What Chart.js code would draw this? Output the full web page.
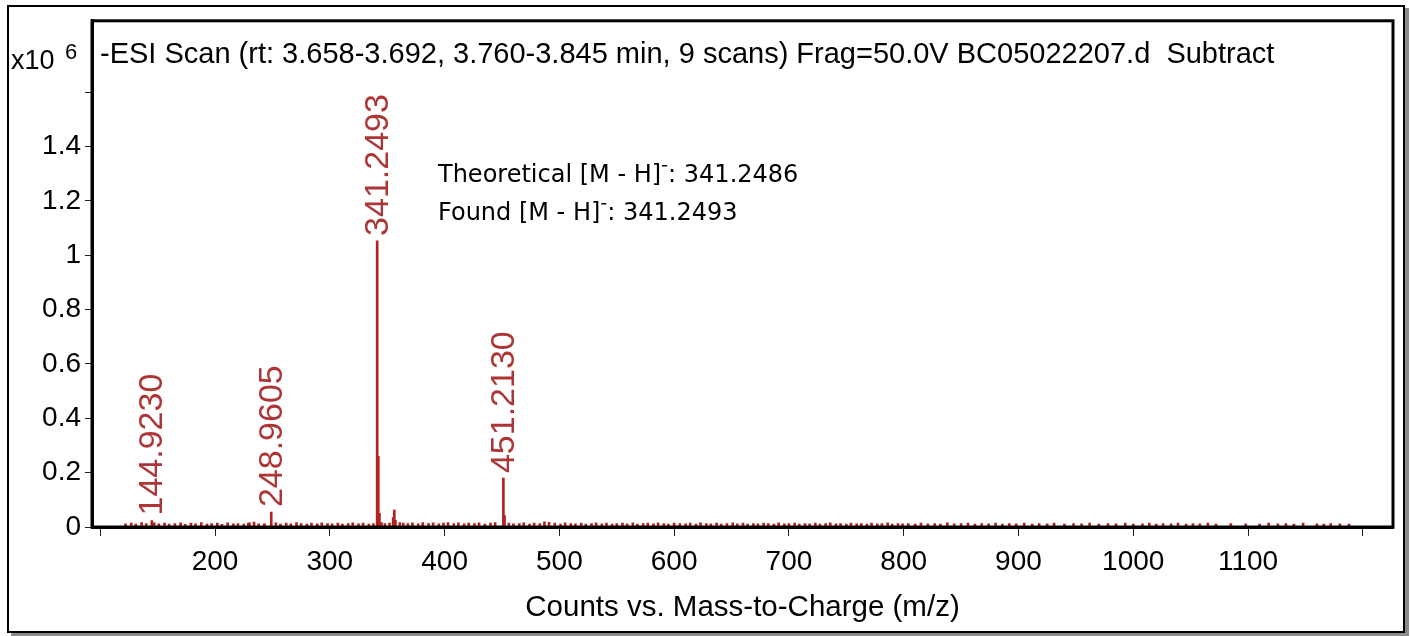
<!DOCTYPE html>
<html lang="en">
<head>
  <meta charset="UTF-8">
  <title>ESI Scan</title>
  <script src="https://cdn.jsdelivr.net/npm/chart.js"></script>
  <style>
    body {
      margin: 0;
      background: #fff;
      width: 1411px;
      height: 636px;
      overflow: hidden;
      position: relative;
    }
    .frame {
      position: absolute;
      left: 7px;
      top: 5px;
      width: 1394px;
      height: 624px;
      border: 2px solid #000;
      box-shadow: 4px 3px 0 #8a8a8a;
    }
    canvas {
      position: absolute;
      left: 0;
      top: 0;
    }
  </style>
</head>
<body>
<div class="frame"></div>
<canvas id="spectrum" width="1411" height="636"></canvas>

<script>
// labelled peaks and their neighbours (m/z, counts x10^6)
const peakMz  = [144.923, 230.0, 248.9605, 341.2493, 342.25, 343.25, 355.2, 356.2, 357.2, 451.213, 452.22, 491.0];
const peakInt = [0.024,   0.015, 0.055,    1.053,    0.26,   0.05,   0.035, 0.062, 0.025, 0.18,    0.042,  0.017];

// baseline noise
const noiseMz = [122,127,131,136,140,147,151,156,160,165,170,174,179,183,188,193,197,202,206,211,216,220,225,229,234,238,243,253,257,262,266,271,275,280,284,289,293,298,
  302,307,311,316,320,325,329,334,338,345,348,352,361,364,368,372,377,381,386,390,395,399,
  403,408,412,417,421,426,430,435,440,444,456,460,465,469,474,478,483,487,496,501,505,510,514,519,523,528,532,537,541,546,550,555,559,564,568,573,577,582,586,591,595,600,
  605,610,614,619,623,628,632,637,641,646,651,655,660,664,669,673,678,682,687,691,696,700,705,709,714,718,723,727,732,736,741,745,750,754,759,763,768,772,777,781,786,790,795,799,
  804,810,815,821,827,832,838,844,850,856,862,868,874,880,886,892,898,905,912,918,925,931,940,948,955,962,970,978,985,993,1000,
  1008,1014,1020,1026,1033,1039,1046,1052,1058,1065,1072,1085,1098,1110,1118,1126,1133,1140,1148,1160,1166,1172,1180,1188];
const noiseInt = [.012,.014,.011,.016,.013,.015,.012,.014,.011,.013,.015,.010,.014,.012,.016,.011,.013,.014,.010,.015,.012,.013,.011,.014,.018,.012,.013,.015,.011,.014,.012,.016,.013,.011,.014,.012,.015,.013,
  .012,.014,.011,.013,.015,.012,.014,.011,.013,.016,.013,.014,.016,.014,.013,.015,.012,.016,.013,.015,.012,.014,
  .016,.013,.015,.012,.014,.013,.015,.011,.014,.016,.014,.012,.013,.015,.011,.014,.013,.019,.014,.011,.015,.013,.012,.014,.011,.013,.015,.012,.014,.011,.013,.014,.012,.015,.011,.013,.014,.012,.015,.013,.011,.014,
  .013,.012,.014,.011,.015,.013,.012,.014,.011,.013,.015,.012,.014,.011,.013,.012,.014,.013,.011,.015,.012,.013,.014,.011,.013,.012,.014,.011,.013,.015,.012,.013,.011,.014,.012,.013,.011,.014,.012,.013,.015,.011,.013,.012,
  .013,.011,.014,.012,.013,.011,.015,.012,.013,.014,.011,.013,.012,.014,.011,.013,.012,.014,.011,.013,.012,.014,.011,.013,.012,.014,.011,.013,.012,.014,.011,
  .012,.014,.011,.013,.012,.014,.011,.013,.012,.014,.011,.013,.012,.011,.014,.012,.013,.011,.014,.012,.011,.013,.012,.011];

const labelMz   = [144.923, 248.9605, 341.2493, 451.213];
const labelInt  = [0.024,   0.055,    1.053,    0.18];
const labelText = ['144.9230', '248.9605', '341.2493', '451.2130'];

const xTicks = [100, 200, 300, 400, 500, 600, 700, 800, 900, 1000, 1100, 1200];
const xTickLabels = ['', '200', '300', '400', '500', '600', '700', '800', '900', '1000', '1100', ''];
const yTicks = [0, 0.2, 0.4, 0.6, 0.8, 1.0, 1.2, 1.4, 1.6];
const yTickLabels = ['0', '0.2', '0.4', '0.6', '0.8', '1', '1.2', '1.4', ''];

const titleText = '-ESI Scan (rt: 3.658-3.692, 3.760-3.845 min, 9 scans) Frag=50.0V BC05022207.d  Subtract';
// [before superscript, after superscript]
const noteLines = [['Theoretical [M - H]', ': 341.2486'], ['Found [M - H]', ': 341.2493']];

const FONT = "'Liberation Sans', Arial, sans-serif";
const NOTE_FONT = "'DejaVu Sans', Verdana, sans-serif";
const RED = '#b22222';

const points = [];
peakMz.forEach((m, i) => points.push({ x: m, y: peakInt[i] }));
noiseMz.forEach((m, i) => points.push({ x: m, y: noiseInt[i] }));

// frame, header text, peak labels
const decorations = {
  id: 'decorations',
  afterDraw(chart) {
    const ctx = chart.ctx;
    const area = chart.chartArea;
    const xs = chart.scales.x;
    const ys = chart.scales.y;
    ctx.save();

    ctx.strokeStyle = '#000';
    ctx.lineWidth = 3;
    ctx.strokeRect(area.left, area.top, area.right - area.left, area.bottom - area.top);

    ctx.fillStyle = '#000';
    ctx.textBaseline = 'middle';
    ctx.textAlign = 'left';
    ctx.font = '29px ' + FONT;
    ctx.fillText(titleText, 100, 55);

    ctx.font = '27px ' + FONT;
    ctx.fillText('x10', 11, 62);
    ctx.font = '22px ' + FONT;
    ctx.fillText('6', 65, 53);

    [176, 214].forEach((y, i) => {
      ctx.font = '24px ' + NOTE_FONT;
      let x = 438;
      ctx.fillText(noteLines[i][0], x, y);
      x += ctx.measureText(noteLines[i][0]).width;
      ctx.fillRect(x + 1, y - 11, 5, 1.5);
      x += 7;
      ctx.fillText(noteLines[i][1], x, y);
    });

    ctx.fillStyle = '#ad3535';
    ctx.font = '34px ' + FONT;
    labelMz.forEach((m, i) => {
      const px = xs.getPixelForValue(m);
      const py = ys.getPixelForValue(labelInt[i]);
      ctx.save();
      ctx.translate(px + 1, py - 5);
      ctx.rotate(-Math.PI / 2);
      ctx.fillText(labelText[i], 0, 0);
      ctx.restore();
    });
    ctx.restore();
  }
};

new Chart(document.getElementById('spectrum'), {
  type: 'bar',
  data: {
    datasets: [{
      data: points,
      backgroundColor: RED,
      borderWidth: 0,
      barThickness: 2
    }]
  },
  options: {
    responsive: false,
    animation: false,
    layout: { padding: { top: 20, right: 18, left: 0, bottom: 0 } },
    plugins: {
      legend: { display: false },
      tooltip: { enabled: false }
    },
    scales: {
      x: {
        type: 'linear',
        min: 92.8,
        max: 1226.3,
        offset: false,
        afterBuildTicks: s => { s.ticks = xTicks.map(v => ({ value: v })); },
        afterFit: s => { s.height = 109; },
        ticks: {
          callback: (v, i) => xTickLabels[i],
          autoSkip: false,
          maxRotation: 0,
          color: '#000',
          font: { family: FONT, size: 28 },
          padding: 9
        },
        grid: { drawOnChartArea: false, offset: false, tickLength: 9, tickColor: '#222', tickWidth: 1 },
        border: { color: '#000', width: 3 },
        title: {
          display: true,
          text: 'Counts vs. Mass-to-Charge (m/z)',
          color: '#000',
          font: { family: FONT, size: 29.5 },
          padding: { top: 0, bottom: 10 }
        }
      },
      y: {
        min: 0,
        max: 1.863,
        afterBuildTicks: s => { s.ticks = yTicks.map(v => ({ value: v })); },
        afterFit: s => { s.width = 92; },
        ticks: {
          callback: (v, i) => yTickLabels[i],
          color: '#000',
          font: { family: FONT, size: 28 },
          padding: 4
        },
        grid: { drawOnChartArea: false, tickLength: 7, tickColor: '#222', tickWidth: 1 },
        border: { color: '#000', width: 3 }
      }
    }
  },
  plugins: [decorations]
});
</script>
</body>
</html>
